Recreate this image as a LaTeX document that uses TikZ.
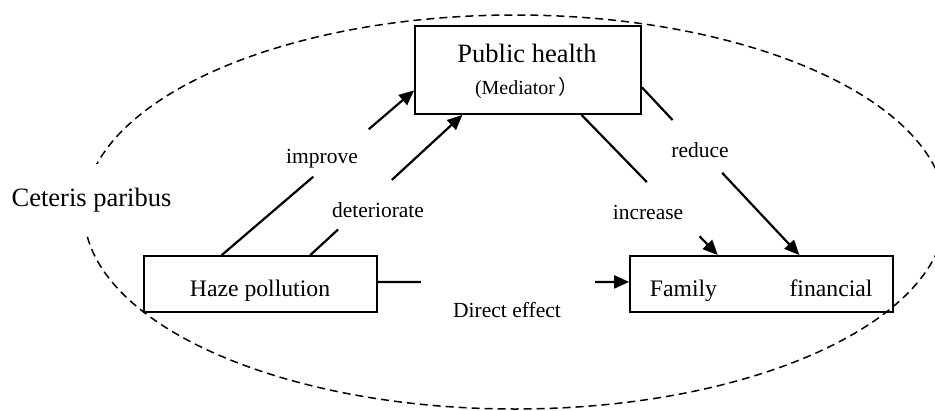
\documentclass[tikz,border=0pt]{standalone}
\usepackage{fontspec}
\setmainfont{Liberation Serif}
\newfontfamily\cjk{Noto Sans CJK SC}
\usetikzlibrary{arrows.meta,calc}
\begin{document}
\begin{tikzpicture}[x=1pt,y=-1pt,
  box/.style={draw,line width=1.8pt,inner sep=0pt},
  big/.style={inner sep=0pt,anchor=base,font=\fontsize{26.5}{30}\selectfont},
  mid/.style={inner sep=0pt,anchor=base,font=\fontsize{23.7}{27}\selectfont},
  lbl/.style={inner sep=0pt,anchor=base,font=\fontsize{21.5}{24}\selectfont},
  conn/.style={line width=2.2pt},
  arr/.style={line width=2.2pt,-{Triangle[length=15pt,width=13pt]}}]
\clip (0,0) rectangle (935,410);
\useasboundingbox (0,0) rectangle (935,410);
% ellipse
\draw[dashed,dash pattern=on 8pt off 5pt,line width=1.5pt] (515,212) ellipse [x radius=431,y radius=197];
% boxes
\node[box,minimum width=226,minimum height=88] (ph) at (528,70) {};
\node[box,minimum width=233,minimum height=56] (haze) at (260.5,284) {};
\node[box,minimum width=263,minimum height=56] (fam) at (761.5,284) {};
% texts
\node[big] (pht) at (527,62) {Public health};
\node[lbl,font=\fontsize{20}{24}\selectfont] (med) at (527,94) {(Mediator\hspace{4pt}{\cjk ）}};
\node[mid] (hazet) at (260,296) {Haze pollution};
\node[mid] (famt1) at (683.5,296) {Family};
\node[mid] (famt2) at (831,296) {financial};
\node[big,fill=white,inner xsep=3pt,inner ysep=24pt] (cp) at (91.5,206) {Ceteris paribus};
\node[lbl] (limp) at (322,163) {improve};
\node[lbl] (ldet) at (378,217) {deteriorate};
\node[lbl] (lred) at (700,157) {reduce};
\node[lbl] (linc) at (648,219) {increase};
\node[lbl] (ldir) at (507,317) {Direct effect};
% connector end points
\coordinate (i1) at ($(haze.north west)!0.335!(haze.north east)$);
\coordinate (i2) at ($(ph.north west)!0.727!(ph.south west)$);
\coordinate (d1) at ($(haze.north west)!0.712!(haze.north east)$);
\coordinate (d2) at ($(ph.south west)!0.212!(ph.south east)$);
\coordinate (c1) at ($(ph.south west)!0.735!(ph.south east)$);
\coordinate (c2) at ($(fam.north west)!0.335!(fam.north east)$);
\coordinate (r1) at ($(ph.north east)!0.693!(ph.south east)$);
\coordinate (r2) at ($(fam.north west)!0.643!(fam.north east)$);
\coordinate (h1) at ($(haze.north east)!0.464!(haze.south east)$);
\coordinate (h2) at (h1 -| fam.west);
% connectors (broken where labels sit)
\draw[conn] (i1) -- ($(i1)!0.476!(i2)$);
\draw[arr] ($(i1)!0.764!(i2)$) -- (i2);
\draw[conn] (d1) -- ($(d1)!0.183!(d2)$);
\draw[arr] ($(d1)!0.536!(d2)$) -- (d2);
\draw[conn] (c1) -- ($(c1)!0.479!(c2)$);
\draw[arr] ($(c1)!0.866!(c2)$) -- (c2);
\draw[conn] (r1) -- ($(r1)!0.195!(r2)$);
\draw[arr] ($(r1)!0.509!(r2)$) -- (r2);
\draw[conn] (h1) -- ($(h1)!0.171!(h2)$);
\draw[arr] ($(h1)!0.865!(h2)$) -- (h2);
\end{tikzpicture}
\end{document}
